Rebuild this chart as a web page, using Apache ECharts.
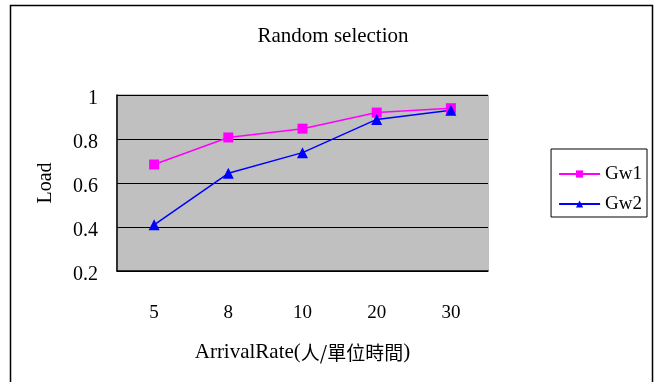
<!DOCTYPE html>
<html><head><meta charset="utf-8">
<script src="https://cdn.jsdelivr.net/npm/echarts@6/dist/echarts.min.js"></script>
<style>html,body{margin:0;padding:0;background:#fff}#c{width:660px;height:382px}</style>
</head><body><div id="c"></div>
<script>
const categories = ['5', '8', '10', '20', '30'];
const gw1 = [0.684, 0.807, 0.847, 0.92, 0.94];
const gw2 = [0.41, 0.644, 0.738, 0.889, 0.931];
const yTicks = [0.2, 0.4, 0.6, 0.8, 1];
const FONT = '"Liberation Serif","DejaVu Serif","Noto Sans CJK TC",serif';
const chart = echarts.init(document.getElementById('c'), null, {renderer: 'canvas'});
chart.setOption({
  animation: false,
  backgroundColor: '#fff',
  title: {text: 'Random selection', left: 328, top: 21, textAlign: 'center',
    textStyle: {fontFamily: FONT, fontSize: 21, fontWeight: 'normal', color: '#000'}},
  legend: {right: 13, top: 149, orient: 'vertical', itemGap: 10, itemWidth: 41, itemHeight: 9,
    padding: [15, 5, 3, 7], borderColor: '#000', borderWidth: 1,
    textStyle: {fontFamily: FONT, fontSize: 19, color: '#000', lineHeight: 20},
    data: ['Gw1', 'Gw2']},
  grid: {left: 117, right: 172, top: 95, bottom: 111},
  xAxis: {type: 'category', data: categories, boundaryGap: true,
    name: 'ArrivalRate({c|人/單位時間})', nameLocation: 'middle', nameGap: 71,
    nameTextStyle: {fontFamily: FONT, fontSize: 21, color: '#000',
      rich: {c: {fontFamily: '"Noto Sans CJK TC",sans-serif', fontSize: 19, color: '#000'}}},
    axisLine: {lineStyle: {color: '#000', width: 1.5}},
    axisTick: {inside: true, length: 6, lineStyle: {color: '#000'}},
    axisLabel: {fontFamily: FONT, fontSize: 19, color: '#000', margin: 33},
    splitLine: {show: false}},
  yAxis: {type: 'value', min: 0.2, max: 1, interval: 0.2,
    name: 'Load', nameLocation: 'middle', nameGap: 61, nameRotate: 90,
    nameTextStyle: {fontFamily: FONT, fontSize: 20, color: '#000'},
    axisLine: {show: true, lineStyle: {color: '#000', width: 1.5}},
    axisTick: {show: true, inside: true, length: 5, lineStyle: {color: '#000'}},
    axisLabel: {fontFamily: FONT, fontSize: 20, color: '#000', margin: 19,
      verticalAlign: 'top', lineHeight: 8,
      formatter: v => { const t = yTicks.find(x => Math.abs(x - v) < 1e-6); return t === undefined ? '' : String(t); }},
    splitLine: {show: true, lineStyle: {color: '#000', width: 1}},
    splitArea: {show: true, areaStyle: {color: ['#C0C0C0']}}},
  series: [
    {name: 'Gw1', type: 'line', data: gw1, symbol: 'rect', symbolSize: 10,
      lineStyle: {color: '#FF00FF', width: 1.5}, itemStyle: {color: '#FF00FF'}},
    {name: 'Gw2', type: 'line', data: gw2, symbol: 'triangle', symbolSize: 11,
      lineStyle: {color: '#0000FF', width: 1.5}, itemStyle: {color: '#0000FF'}}
  ],
  graphic: [
    {type: 'rect', shape: {x: 10.5, y: 5.5, width: 642, height: 400},
      style: {fill: 'none', stroke: '#000', lineWidth: 1.5}, silent: true},
    {type: 'rect', shape: {x: 117, y: 95, width: 371, height: 176},
      style: {fill: 'none', stroke: '#808080', lineWidth: 1}, silent: true, z: 0}
  ]
});
</script></body></html>
